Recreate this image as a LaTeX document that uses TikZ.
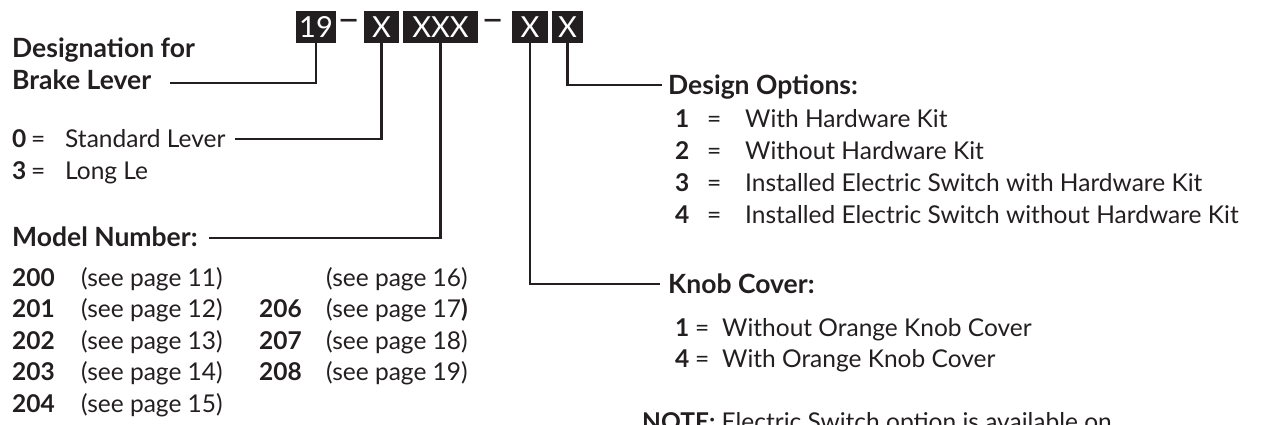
\documentclass[tikz,border=0pt]{standalone}
\usepackage{fontspec}
\setmainfont{Lato}
\definecolor{ink}{HTML}{231F20}
\tikzset{
  txt/.style={anchor=base west, inner sep=0pt, text=ink, font=\fontsize{24.5}{28}\selectfont},
  head/.style={txt, font=\fontsize{26.5}{30}\selectfont\bfseries},
  num/.style={txt, font=\fontsize{24.5}{28}\selectfont\bfseries},
  codebox/.style={fill=ink, text=white, inner sep=0pt, minimum height=32pt, font=\fontsize{29}{32}\selectfont},
  sepdash/.style={txt, anchor=center, font=\fontsize{40}{42}\selectfont},
  conn/.style={draw=ink, line width=2.2pt},
}
\begin{document}
\begin{tikzpicture}[x=1pt,y=-1pt]
\useasboundingbox (0,0) rectangle (1262,424);
% code boxes
\node[codebox, minimum width=40pt] (b19) at (316,27) {19};
\node[sepdash] (d1) at (349,26) {–};
\node[codebox, minimum width=35pt] (bx1) at (381.5,27) {X};
\node[codebox, minimum width=75pt] (bxxx) at (440.5,27) {XXX};
\node[sepdash] (d2) at (493,26) {–};
\node[codebox, minimum width=36pt] (bx2) at (530,27) {X};
\node[codebox, minimum width=31pt] (bx3) at (567.5,27) {X};
% left labels
\node[head] (desig) at (12,57) {Designation for};
\node[head] (brake) at (12,89) {Brake Lever};
\node[num] (std0) at (12,147) {0};
\node[txt] (stdeq) at (31,147) {=};
\node[txt] (std) at (65,147) {Standard Lever};
\node[num] (long3) at (12,179) {3};
\node[txt] (longeq) at (31,179) {=};
\node[txt] (long) at (65,179) {Long Le};
\node[head] (model) at (12,246) {Model Number:};
% model list
\node[num] (m200) at (12,286) {200};
\node[txt] (p11) at (81,286) {(see page 11)};
\node[txt] (p16) at (326,286) {(see page 16)};
\node[num] (m201) at (12,317) {201};
\node[txt] (p12) at (81,317) {(see page 12)};
\node[num] (m206) at (259,317) {206};
\node[txt] (p17) at (326,317) {(see page 17\textbf{)}};
\node[num] (m202) at (12,349) {202};
\node[txt] (p13) at (81,349) {(see page 13)};
\node[num] (m207) at (259,349) {207};
\node[txt] (p18) at (326,349) {(see page 18)};
\node[num] (m203) at (12,380) {203};
\node[txt] (p14) at (81,380) {(see page 14)};
\node[num] (m208) at (259,380) {208};
\node[txt] (p19) at (326,380) {(see page 19)};
\node[num] (m204) at (12,412) {204};
\node[txt] (p15) at (81,412) {(see page 15)};
% design options
\node[head] (design) at (668,94) {Design Options:};
\foreach \n/\t/\y in {1/With Hardware Kit/127, 2/Without Hardware Kit/159, 3/Installed Electric Switch with Hardware Kit/191, 4/Installed Electric Switch without Hardware Kit/223}{
  \node[num] (dn\n) at (675,\y) {\n};
  \node[txt] (de\n) at (707,\y) {=};
  \node[txt] (dt\n) at (745,\y) {\t};
}
% knob cover
\node[head] (knob) at (668,293) {Knob Cover:};
\node[num] (kn1) at (675,336) {1};
\node[txt] (ke1) at (695,336) {=};
\node[txt] (k1) at (722,336) {Without Orange Knob Cover};
\node[num] (kn4) at (675,367) {4};
\node[txt] (ke4) at (695,367) {=};
\node[txt] (k4) at (722,367) {With Orange Knob Cover};
% note (cut off by the page edge, as in the reference)
\node[txt] (note) at (642,430) {\textbf{NOTE:} Electric Switch option is available on};
% connector ends
\coordinate (cb) at (170,83);
\coordinate (cs) at (235,139);
\coordinate (cm) at (209,238);
\coordinate (ck) at (660,284);
\coordinate (cd) at (662,85);
\draw[conn] (b19.south) |- (cb);
\draw[conn] (bx1.south) |- (cs);
\draw[conn] (bxxx.south) |- (cm);
\draw[conn] (bx2.south) |- (ck);
\draw[conn] (bx3.south) |- (cd);
\end{tikzpicture}
\end{document}
